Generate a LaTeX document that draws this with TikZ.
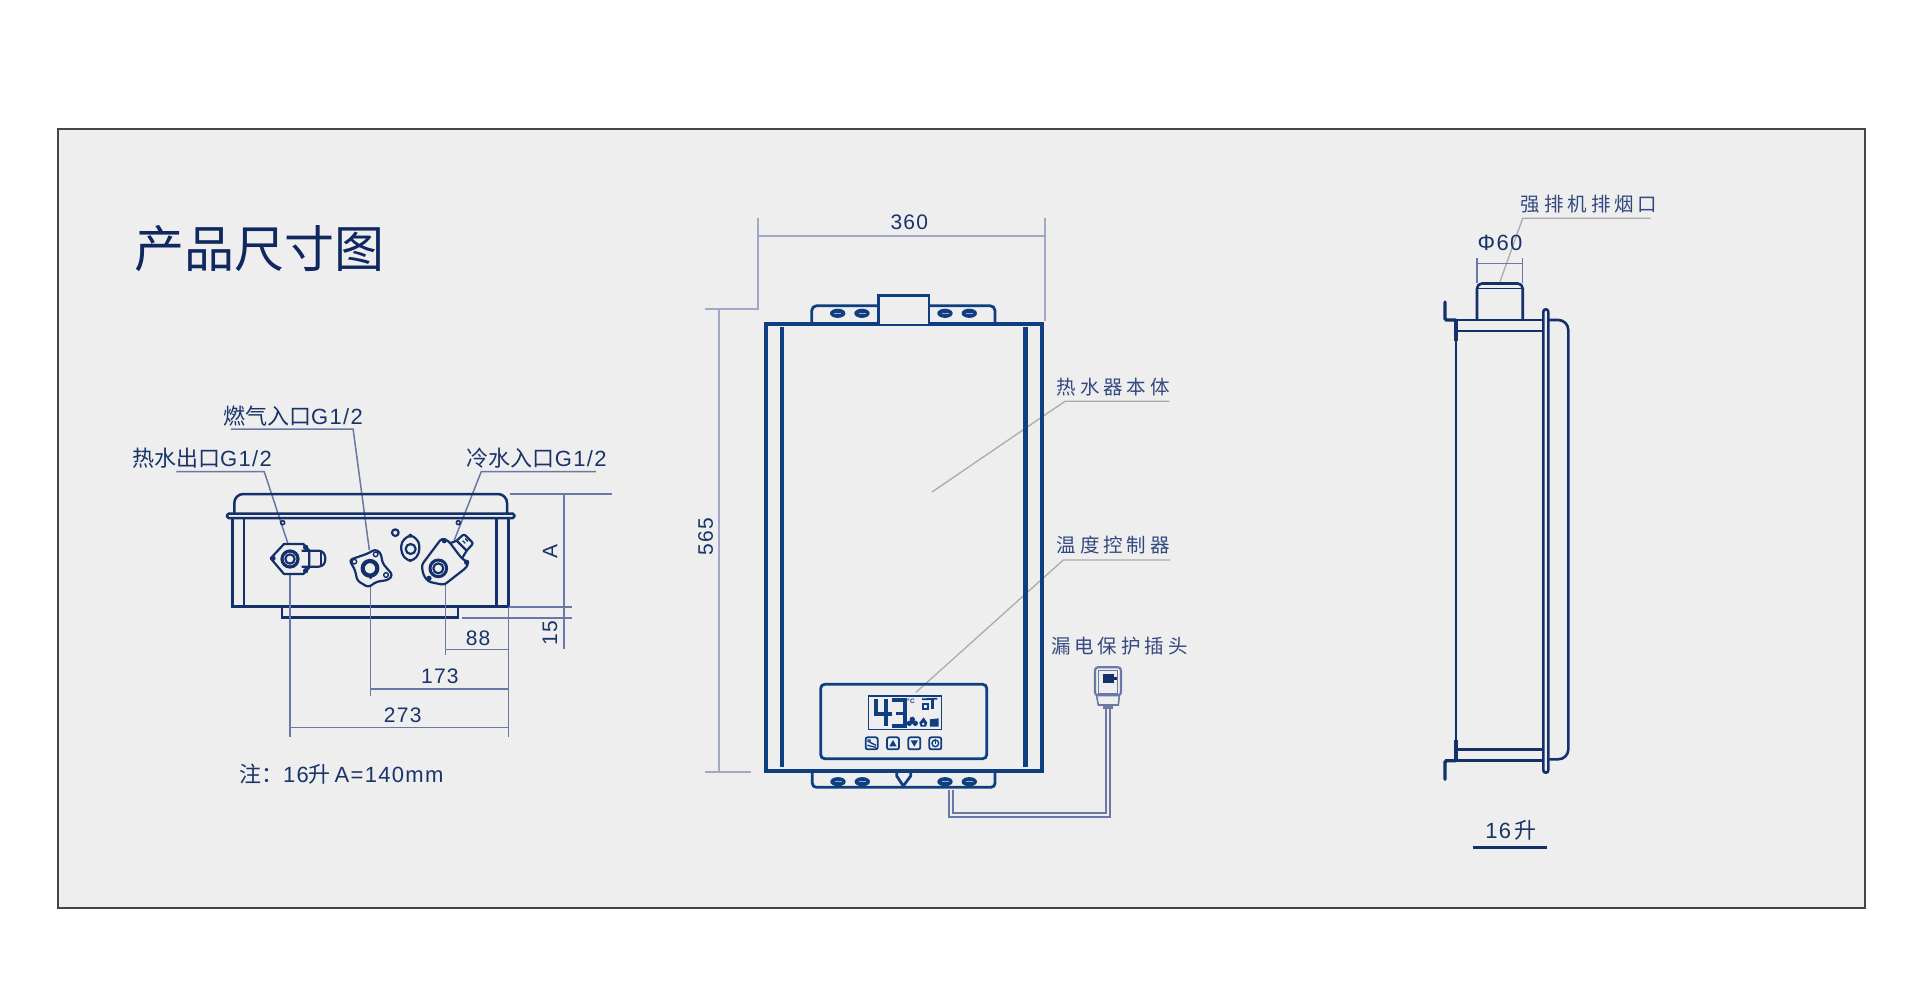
\documentclass[tikz,border=0pt]{standalone}
\usepackage{fontspec}
\setmainfont[LetterSpace=6]{Liberation Sans}
\newfontfamily\cjk{Noto Sans CJK SC}
\newfontfamily\cjksp[LetterSpace=20]{Noto Sans CJK SC}
\definecolor{panelbg}{HTML}{EEEEEE}
\definecolor{panelln}{HTML}{454545}
\definecolor{navybody}{HTML}{0F3F80}
\definecolor{navyside}{HTML}{14306B}
\definecolor{dimlight}{HTML}{A0A8C6}
\definecolor{dimdark}{HTML}{6A78A5}
\definecolor{numtext}{HTML}{183468}
\definecolor{songtext}{HTML}{34497F}
\definecolor{leadgray}{HTML}{ABABAB}
\definecolor{titletext}{HTML}{10285F}
\tikzset{
  dimtext/.style={font=\fontsize{21}{25}\selectfont,text=numtext,inner sep=0pt},
  portlabel/.style={font=\fontsize{22}{26}\selectfont,text=numtext,inner sep=0pt},
  partlabel/.style={font=\fontsize{19.5}{24}\selectfont\cjksp,text=songtext,inner sep=0pt},
  dimleft/.style={draw=dimdark,line width=1.5pt},
  dimmid/.style={draw=dimlight,line width=1.7pt},
  leadgrey/.style={draw=leadgray,line width=1.3pt},
  bodyln/.style={draw=navybody,line width=3.6pt},
  panelln/.style={draw=navybody,line width=2.8pt},
  sideln/.style={draw=navyside,line width=2.6pt},
  boxln/.style={draw=navyside,line width=2.5pt},
  valve/.style={draw=navyside,line width=2.2pt,line join=round},
  vdot/.style={fill=navyside},
}
\begin{document}
\begin{tikzpicture}[x=1pt,y=-1pt]
\useasboundingbox (0,0) rectangle (1920,998);
\fill[white] (0,0) rectangle (1920,998);
\draw[fill=panelbg,draw=panelln,line width=2pt] (57.5,129) rectangle (1865,907.5);

% title
\node[font=\fontsize{50}{55}\selectfont\cjk,text=titletext,inner sep=0pt] (title) at (259,249) {产品尺寸图};

% ---- bottom view (left)
\begin{scope}[x=1.0331pt,xshift=-3.31pt]
\node[portlabel,anchor=west] (gasL) at (219,416) {{\cjk 燃气入口}G1/2};
\node[portlabel,anchor=west] (hotL) at (131,458) {{\cjk 热水出口}G1/2};
\node[portlabel,anchor=west] (coldL) at (455,458) {{\cjk 冷水入口}G1/2};
\coordinate (gasA) at (226.7,429); \coordinate (gasB) at (345,429); \coordinate (gasC) at (360.7,550);
\coordinate (hotA) at (174,471.7); \coordinate (hotB) at (259,471.7); \coordinate (hotC) at (281.7,543);
\coordinate (coldA) at (580,471.7); \coordinate (coldB) at (469,471.7); \coordinate (coldC) at (443,540);
\draw[dimleft] (gasA) -- (gasB) -- (gasC);
\draw[dimleft] (hotA) -- (hotB) -- (hotC);
\draw[dimleft] (coldA) -- (coldB) -- (coldC);

% housing
\draw[boxln,rounded corners=9pt] (230,513.5) -- (230,494) -- (494,494) -- (494,513.5);
\draw[boxln,rounded corners=1.5pt] (223,513.7) rectangle (501,518);
\draw[boxln] (228.3,518) -- (228.3,606.7) -- (495.3,606.7) -- (495.3,518);
\draw[boxln] (239.3,518) -- (239.3,606.7);
\draw[boxln] (484,518) -- (484,606.7);
\draw[boxln] (276,606.7) -- (276,617.3) -- (446.7,617.3) -- (446.7,606.7);

% dimensions of bottom view
\coordinate (d273T) at (283.7,575); \coordinate (d273B) at (283.7,736.7);
\coordinate (d173T) at (361.7,586.7); \coordinate (d173B) at (361.7,696);
\coordinate (d88T) at (434.3,584); \coordinate (d88B) at (434.3,655);
\coordinate (dRT) at (495.3,607); \coordinate (dRB) at (495.3,736.7);
\coordinate (d273L) at (283.7,727.5); \coordinate (d273R) at (495.3,727.5);
\coordinate (d173L) at (361.7,688.8); \coordinate (d173R) at (495.3,688.8);
\coordinate (d88L) at (434.3,649.3); \coordinate (d88R) at (495.3,649.3);
\draw[dimleft] (d273T) -- (d273B);
\draw[dimleft] (d173T) -- (d173B);
\draw[dimleft] (d88T) -- (d88B);
\draw[dimleft] (dRT) -- (dRB);
\draw[dimleft] (d273L) -- (d273R);
\draw[dimleft] (d173L) -- (d173R);
\draw[dimleft] (d88L) -- (d88R);
\coordinate (dA1) at (496.7,494); \coordinate (dA2) at (596,494);
\coordinate (dAT) at (549,494); \coordinate (dAB) at (549,649.3);
\coordinate (dB1) at (496,607); \coordinate (dB2) at (556.7,607);
\coordinate (dC1) at (450.7,618); \coordinate (dC2) at (556.7,618);
\draw[dimleft] (dA1) -- (dA2);
\draw[dimleft] (dAT) -- (dAB);
\draw[dimleft] (dB1) -- (dB2);
\draw[dimleft] (dC1) -- (dC2);
\node[dimtext] (t88) at (466,638) {88};
\node[dimtext] (t173) at (429,676.7) {173};
\node[dimtext] (t273) at (393,715) {273};
\node[dimtext,rotate=90] (tA) at (535.7,551.7) {A};
\node[dimtext,rotate=90] (t15) at (535.7,633) {15};
\end{scope}
\node[font=\fontsize{22}{26}\selectfont,text=numtext,inner sep=0pt,anchor=west] (tNote) at (239,774) {{\cjk 注：}16{\cjk 升}\,A=140mm};

% valves (drawn in a 3x local grid)
\begin{scope}[shift={(240,510)},x=0.3333pt,y=-0.3333pt]
  \draw[valve,line width=1.6pt] (128,38) circle[radius=6];
  \draw[valve,line width=1.6pt] (655,38) circle[radius=6];
  % hot
  \draw[valve,fill=panelbg] (92,145) -- (132,102) -- (190,102) -- (208,122) -- (208,172) -- (190,192) -- (132,192) -- cycle;
  \draw[valve,rounded corners=3pt] (185,122) -- (245,122) -- (256,135) -- (256,158) -- (245,170) -- (185,170);
  \draw[valve] (243,122) -- (243,170);
  \fill[vdot] (99,145) circle[radius=8] (197,112) circle[radius=8] (197,182) circle[radius=8];
  \draw[valve,line width=3.2pt] (150,147) circle[radius=24];
  \draw[valve] (150,147) circle[radius=14];
  % gas
  \draw[valve,rounded corners=3pt] (328,150) -- (385,130) -- (405,118) -- (422,128) -- (428,160) -- (458,195) -- (445,210) -- (410,215) -- (385,232) -- (352,212) -- (345,180) -- cycle;
  \draw[valve,line width=1.4pt] (343,155) circle[radius=7] (438,195) circle[radius=7] (407,133) circle[radius=7];
  \draw[valve,line width=4.2pt] (390,175) circle[radius=22];
  \fill[vdot] (392,203) circle[radius=5];
  % small ring and oval
  \draw[valve] (466,68) circle[radius=10];
  \draw[valve,rounded corners=4pt] (512,73) -- (538,95) -- (538,130) -- (520,152) -- (502,152) -- (484,130) -- (484,95) -- cycle;
  \draw[valve] (512,117) circle[radius=15];
  \fill[vdot] (511,77) circle[radius=6];
  % cold
  \draw[valve,rounded corners=3pt] (545,165) -- (605,85) -- (625,92) -- (665,145) -- (685,158) -- (680,172) -- (612,225) -- (565,215) -- (550,195) -- cycle;
  \draw[valve,line width=3pt] (595,175) circle[radius=25];
  \draw[valve] (595,175) circle[radius=15];
  \fill[vdot] (613,92) circle[radius=8] (680,157) circle[radius=8] (567,205) circle[radius=8];
  \draw[valve,rounded corners=2pt] (650,92) -- (672,72) -- (700,100) -- (680,122);
  \draw[valve] (650,92) -- (680,122);
  \draw[valve] (630,100) -- (650,92);
  \draw[valve] (668,142) -- (680,122);
  \draw[valve,line width=1.3pt] (668,92) -- (676,100) (676,86) -- (684,94);
\end{scope}

% ---- front view
\coordinate (w1) at (758.3,218.3); \coordinate (w1b) at (758.3,310);
\coordinate (w2) at (1045,218.3); \coordinate (w2b) at (1045,320.7);
\coordinate (w3) at (758.3,236); \coordinate (w4) at (1045,236);
\coordinate (h1) at (705,309.3); \coordinate (h2) at (758.3,309.3);
\coordinate (h3) at (719.3,309.3); \coordinate (h4) at (719.3,771.7);
\coordinate (h5) at (705,771.7); \coordinate (h6) at (751,771.7);
\draw[dimmid] (w1) -- (w1b); \draw[dimmid] (w2) -- (w2b); \draw[dimmid] (w3) -- (w4);
\draw[dimmid] (h1) -- (h2); \draw[dimmid] (h3) -- (h4); \draw[dimmid] (h5) -- (h6);
\node[dimtext] (t360) at (909.3,222.3) {360};
\node[dimtext,rotate=90] (t565) at (705.7,537) {565};

\coordinate (lbA) at (932,492); \coordinate (lbB) at (1065,401.3); \coordinate (lbC) at (1169.3,401.3);
\coordinate (ltA) at (916,692.3); \coordinate (ltB) at (1063.3,560); \coordinate (ltC) at (1170,560);
\draw[leadgrey] (lbA) -- (lbB) -- (lbC);
\draw[leadgrey] (ltA) -- (ltB) -- (ltC);
\node[partlabel,anchor=west] (bodyL) at (1056.5,387) {热水器本体};
\node[partlabel,anchor=west] (ctrlL) at (1056.5,545.5) {温度控制器};
\node[partlabel,anchor=west] (plugL) at (1051,646) {漏电保护插头};

\draw[bodyln,line join=miter] (765.7,324) rectangle (1041.7,770.7);
\draw[draw=navybody,line width=4.2pt] (782,327) -- (782,767);
\draw[draw=navybody,line width=4.2pt] (1025.5,327) -- (1025.5,767);
\draw[panelln,rounded corners=5pt] (811.7,324) -- (811.7,305.7) -- (995,305.7) -- (995,324);
\draw[panelln,fill=panelbg] (878.7,324) -- (878.7,295.3) -- (929,295.3) -- (929,324);
\draw[panelln,rounded corners=4pt] (812.3,770.7) -- (812.3,787.3) -- (995,787.3) -- (995,770.7);
\draw[panelln] (896.7,772.7) -- (896.7,776) -- (903.3,786) -- (910.7,776) -- (910.7,772.7);
\foreach \ox/\oy in {837.7/313.3,862/313.3,945/313.3,969.3/313.3,838/781.7,862.3/781.7,945/781.7,969.3/781.7}{
  \fill[navybody] (\ox,\oy) ellipse[x radius=7.7,y radius=4.6];
  \draw[draw=dimlight,line width=1.1pt] (\ox-3.5,\oy) -- (\ox+3.5,\oy);
}
% control panel
\draw[panelln,rounded corners=4pt] (820.7,684.3) rectangle (986.7,758.7);
\begin{scope}[shift={(780,660)},x=0.3333pt,y=-0.3333pt]
  \draw[draw=navybody,line width=1.5pt] (266,108) rectangle (485,208);
  \draw[draw=navybody,line width=4pt] (287,118) -- (287,162) -- (335,162);
  \draw[draw=navybody,line width=4pt] (319,118) -- (319,198);
  \draw[draw=navybody,line width=4pt] (335,120) -- (375,120) -- (375,198) -- (335,198);
  \draw[draw=navybody,line width=3.5pt] (347,160) -- (375,160);
  \node[font=\fontsize{6.5}{7}\selectfont\bfseries,text=navybody,inner sep=0pt] (deg) at (393,125) {°C};
  \draw[draw=navybody,line width=1.8pt] (426,118) -- (472,116);
  \draw[draw=navybody,line width=1.8pt] (428,132) rectangle (443,146);
  \draw[draw=navybody,line width=3pt] (457,118) -- (457,147);
  \fill[navybody] (397,178) circle[radius=8] (388,190) circle[radius=8] (406,190) circle[radius=8];
  \fill[navybody] (397,186) circle[radius=6];
  \fill[navybody] (431,172) -- (442,188) -- (438,200) -- (422,200) -- (418,188) -- cycle;
  \fill[panelbg] (430,192) circle[radius=4];
  \fill[navybody] (450,178) -- (476,175) -- (476,200) -- (450,200) -- cycle;
  \foreach \bx in {275,339,403,466}{
    \draw[panelln,line width=1.8pt,rounded corners=2pt] (\bx-18,232) rectangle (\bx+18,268);
  }
  \draw[draw=navybody,line width=1.3pt] (262,242) -- (272,248) -- (288,256) (262,256) -- (288,262);
  \fill[navybody] (262,238) -- (272,238) -- (272,248) -- cycle;
  \fill[navybody] (339,240) -- (350,259) -- (328,259) -- cycle;
  \fill[navybody] (403,260) -- (392,241) -- (414,241) -- cycle;
  \draw[draw=navybody,line width=1.4pt] (466,250) circle[radius=10];
  \draw[draw=navybody,line width=1.4pt] (466,238) -- (466,252);
  % plug
  \draw[draw=dimdark,line width=2.2pt,rounded corners=3pt] (945,22) rectangle (1023,106);
  \draw[draw=dimdark,line width=1.2pt] (956,32) rectangle (1013,100);
  \fill[navyside] (968,43) rectangle (1003,68);
  \fill[navyside] (1003,50) rectangle (1012,60);
  \draw[draw=dimdark,line width=1.6pt] (950,108) -- (955,135) -- (1015,135) -- (1018,108);
  \fill[dimdark] (968,135) rectangle (1000,146);
  % cable
  \coordinate (cabO1) at (507,390); \coordinate (cabO2) at (507,470); \coordinate (cabO3) at (990,470); \coordinate (cabO4) at (990,146);
  \coordinate (cabI1) at (518,390); \coordinate (cabI2) at (518,460); \coordinate (cabI3) at (978,460); \coordinate (cabI4) at (978,146);
  \draw[draw=dimdark,line width=1.7pt] (cabO1) -- (cabO2) -- (cabO3) -- (cabO4);
  \draw[draw=dimdark,line width=1.7pt] (cabI1) -- (cabI2) -- (cabI3) -- (cabI4);
\end{scope}

% ---- side view
\node[partlabel,anchor=west] (flueL) at (1520.7,204.3) {强排机排烟口};
\coordinate (flA) at (1650.7,218.3); \coordinate (flB) at (1522.7,218.3); \coordinate (flC) at (1500,281.7);
\draw[leadgrey] (flA) -- (flB) -- (flC);
\node[font=\fontsize{22}{26}\selectfont,text=numtext,inner sep=0pt] (tPhi) at (1500,243.3) {Φ60};
\coordinate (p1) at (1477,258); \coordinate (p2) at (1477,283);
\coordinate (p3) at (1522.7,258); \coordinate (p4) at (1522.7,283);
\coordinate (p5) at (1477,263.3); \coordinate (p6) at (1522.7,263.3);
\draw[dimleft] (p1) -- (p2); \draw[dimleft] (p3) -- (p4); \draw[dimleft] (p5) -- (p6);

\draw[sideln,rounded corners=5pt] (1477,320) -- (1477,283.5) -- (1522.7,283.5) -- (1522.7,320);
\draw[sideln,line width=1.8pt] (1477,288.5) -- (1522.7,288.5);
\draw[sideln] (1445,320) -- (1543.3,320);
\draw[sideln] (1456,331) -- (1543.3,331);
\draw[sideln,line width=3.4pt,line cap=round,rounded corners=1.5pt] (1445,302) -- (1445,320) -- (1456,320);
\draw[sideln,line width=3.4pt] (1456,320) -- (1456,340.7);
\draw[sideln] (1456,320) -- (1456,760.7);
\draw[sideln,line width=3.4pt] (1456,740) -- (1456,760.7);
\draw[sideln] (1456,749.3) -- (1543.3,749.3);
\draw[sideln] (1445,760.7) -- (1543.3,760.7);
\draw[sideln,line width=3.4pt,line cap=round,rounded corners=1.5pt] (1456,760.7) -- (1445,760.7) -- (1445,779.3);
\draw[sideln,rounded corners=10pt] (1548.3,320) -- (1568.3,320) -- (1568.3,759.3) -- (1548.3,759.3);
\draw[sideln,fill=panelbg,rounded corners=2.5pt] (1543.3,309.3) rectangle (1548.3,772.7);
\node[font=\fontsize{22}{26}\selectfont,text=numtext,inner sep=0pt] (tSixteen) at (1511,830.7) {16\,{\cjk 升}};
\coordinate (ulA) at (1472.7,847.7); \coordinate (ulB) at (1547.3,847.7);
\draw[draw=navyside,line width=2.6pt] (ulA) -- (ulB);
\end{tikzpicture}
\end{document}
